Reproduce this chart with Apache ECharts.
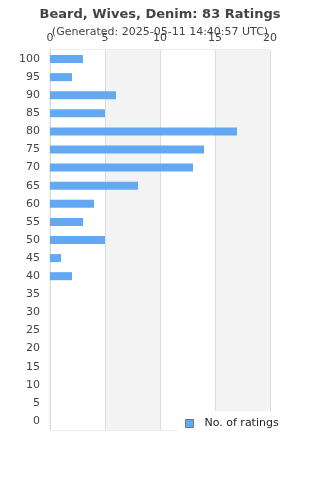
<!DOCTYPE html>
<html>
<head>
<meta charset="utf-8">
<script src="https://cdn.jsdelivr.net/npm/echarts@6/dist/echarts.min.js"></script>
<style>
html,body{margin:0;padding:0;background:#fff}
#main{width:320px;height:480px}
</style>
</head>
<body>
<div id="main"></div>
<script>
var ratingBins = ['0','5','10','15','20','25','30','35','40','45','50','55','60','65','70','75','80','85','90','95','100']
var ratingCounts = [0,0,0,0,0,0,0,0,2,1,5,3,4,8,13,14,17,5,6,2,3]
var countTicks = [0,5,10,15,20]

function init(){
    var myChart = echarts.init(document.getElementById('main'))
    var option = {
        animation: false,
        textStyle: {fontFamily: 'DejaVu Sans'},
        title: {
            text: 'Beard, Wives, Denim: 83 Ratings',
            subtext: '(Generated: 2025-05-11 14:40:57 UTC)',
            left: 'center',
            top: 3,
            itemGap: 6,
            textStyle: {fontSize: 13, fontWeight: 'bold', color: '#444'},
            subtextStyle: {fontSize: 11, color: '#444'}
        },
        grid: {left: 50, right: 50, top: 50, bottom: 50, show: true, borderColor: '#ddd', borderWidth: 1, backgroundColor: 'transparent'},
        xAxis: {
            type: 'value',
            position: 'top',
            min: countTicks[0],
            max: countTicks[countTicks.length-1],
            interval: 5,
            axisLine: {show: false},
            axisTick: {show: false},
            axisLabel: {fontSize: 11, color: '#444', margin: 6},
            splitLine: {show: true, lineStyle: {color: '#ddd', width: 1}},
            splitArea: {show: true, areaStyle: {color: ['#ffffff', '#f3f3f3']}}
        },
        yAxis: {
            type: 'category',
            data: ratingBins,
            axisLine: {show: true, lineStyle: {color: '#ddd', width: 1}},
            axisTick: {show: false},
            axisLabel: {fontSize: 11, color: '#444', margin: 10, interval: 0}
        },
        legend: {
            left: 178,
            top: 411,
            padding: [7, 40, 6, 7],
            backgroundColor: '#fff',
            itemWidth: 8,
            itemHeight: 8,
            itemGap: 10,
            icon: 'rect',
            itemStyle: {borderColor: '#777', borderWidth: 1},
            textStyle: {fontSize: 11, color: '#222', padding: [0, 0, 0, 6]},
            data: ['No. of ratings']
        },
        series: [{
            name: 'No. of ratings',
            type: 'bar',
            data: ratingCounts,
            barWidth: 8,
            itemStyle: {color: '#62a8f3'},
            emphasis: {disabled: true}
        }]
    }
    myChart.setOption(option)
}
init()
</script>
</body>
</html>
